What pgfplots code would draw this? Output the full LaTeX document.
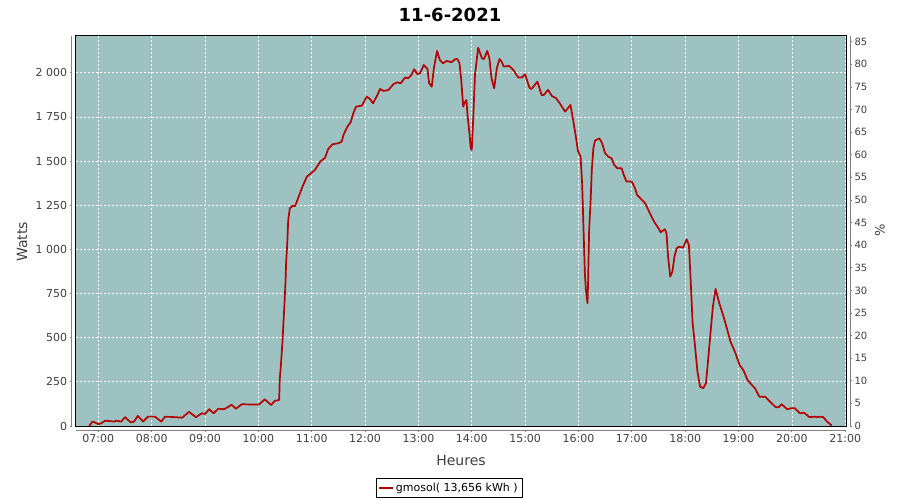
\documentclass[border=0pt]{standalone}
\usepackage{fontspec}
\setmainfont{DejaVu Sans}
\usepackage{pgfplots}
\pgfplotsset{compat=1.18}
\definecolor{plotbg}{RGB}{158,194,193}
\definecolor{serie}{RGB}{180,0,0}
\definecolor{axgray}{RGB}{128,128,128}
\definecolor{lblgray}{RGB}{64,64,64}
\pgfplotstableread{
h W
6.83 0
6.89 25
6.94 20
7.00 10
7.05 15
7.13 30
7.30 25
7.33 30
7.43 25
7.50 50
7.61 20
7.67 25
7.74 57
7.84 25
7.93 53
8.06 53
8.18 25
8.25 53
8.44 50
8.57 47
8.70 80
8.83 50
8.94 72
9.00 68
9.08 95
9.16 72
9.25 98
9.36 95
9.50 120
9.58 98
9.69 123
10.01 121
10.12 151
10.24 119
10.31 143
10.39 147
10.40 260
10.42 336
10.45 468
10.47 582
10.49 695
10.51 827
10.52 921
10.54 1025
10.56 1167
10.59 1233
10.64 1246
10.69 1246
10.72 1270
10.78 1318
10.84 1365
10.91 1412
10.97 1427
11.06 1450
11.16 1497
11.25 1519
11.31 1569
11.39 1595
11.50 1601
11.56 1610
11.60 1652
11.67 1695
11.73 1720
11.78 1771
11.83 1808
11.94 1814
12.03 1865
12.09 1852
12.15 1827
12.23 1874
12.28 1908
12.35 1897
12.44 1903
12.53 1935
12.60 1946
12.67 1941
12.75 1973
12.81 1969
12.87 1988
12.92 2020
12.98 1993
13.03 1997
13.10 2044
13.17 2022
13.20 1941
13.25 1921
13.29 2026
13.35 2124
13.40 2073
13.46 2054
13.53 2067
13.62 2060
13.69 2077
13.73 2078
13.77 2054
13.80 1969
13.84 1808
13.86 1827
13.90 1846
13.92 1761
13.96 1648
13.98 1573
14.00 1563
14.03 1761
14.06 1988
14.12 2142
14.19 2082
14.23 2078
14.29 2124
14.33 2082
14.37 1969
14.42 1912
14.47 2026
14.52 2078
14.56 2063
14.60 2035
14.70 2039
14.78 2016
14.87 1973
14.94 1973
15.00 1992
15.08 1916
15.12 1908
15.23 1950
15.31 1874
15.35 1874
15.43 1903
15.50 1869
15.58 1856
15.65 1827
15.75 1780
15.79 1795
15.85 1818
15.90 1733
15.95 1640
15.99 1558
16.04 1525
16.07 1365
16.09 1167
16.12 865
16.14 770
16.17 695
16.18 808
16.20 1110
16.23 1289
16.25 1450
16.28 1573
16.31 1616
16.39 1629
16.44 1604
16.50 1544
16.56 1525
16.62 1516
16.67 1478
16.73 1459
16.81 1459
16.85 1421
16.90 1384
17.00 1384
17.06 1346
17.10 1308
17.19 1280
17.25 1261
17.31 1223
17.37 1185
17.43 1151
17.50 1120
17.54 1097
17.62 1114
17.65 1091
17.68 959
17.72 846
17.76 874
17.80 959
17.84 1006
17.88 1015
17.96 1010
18.03 1057
18.07 1025
18.10 846
18.14 582
18.18 468
18.23 308
18.28 223
18.34 214
18.39 242
18.43 374
18.48 544
18.52 676
18.57 776
18.64 695
18.72 619
18.79 544
18.85 477
18.94 415
19.02 345
19.09 317
19.17 260
19.25 232
19.31 213
19.39 166
19.50 166
19.59 138
19.70 106
19.75 106
19.81 123
19.91 95
19.98 100
20.06 100
20.15 72
20.23 75
20.33 50
20.43 53
20.48 50
20.53 53
20.59 50
20.66 25
20.75 2
}\gmosol
\begin{document}
\begin{tikzpicture}[x=1pt,y=1pt]
\path[use as bounding box, fill=white] (0,0) rectangle (900,500);
\begin{axis}[
  at={(75.7pt,74pt)}, anchor=south west, scale only axis,
  width=770.3pt, height=390.3pt,
  xmin=6.576, xmax=21.015, ymin=0, ymax=2210,
  axis background/.style={fill=plotbg},
  xtick={7,8,...,21},
  xticklabels={07:00,08:00,09:00,10:00,11:00,12:00,13:00,14:00,15:00,16:00,17:00,18:00,19:00,20:00,21:00},
  ytick={0,250,...,2000},
  yticklabels={0,250,500,750,1 000,1 250,1 500,1 750,2 000},
  grid=major,
  major grid style={white, dash pattern=on 2pt off 2pt, line width=0.7pt},
  axis line style={black, line width=0.9pt},
  tick align=outside, major tick length=2pt,
  xtick pos=bottom, ytick pos=left,
  xtick style={axgray, line width=0.8pt, yshift=-4pt},
  ytick style={axgray, line width=0.8pt, xshift=-4pt},
  ticklabel style={font=\fontsize{11}{13}\selectfont, text=lblgray},
  xticklabel style={yshift=-3pt},
  yticklabel style={xshift=-3pt},
  legend style={at={(0.4846,-0.159)}, anchor=center, draw=black, line width=0.6pt,
    font=\fontsize{11}{13}\selectfont, inner sep=2.5pt,
    legend cell align=left},
  legend image code/.code={\draw[#1, line width=1.6pt] (0pt,0pt) -- (14pt,0pt);},
  clip=false,
]
\addplot[serie, line width=1.7pt, line join=round] table[x=h, y=W] {\gmosol};
\addlegendentry{gmosol( 13,656 kWh )}
\draw[axgray, line width=0.8pt] ([xshift=-4pt]rel axis cs:0,0) -- ([xshift=-4pt]rel axis cs:0,1);
\draw[axgray, line width=0.8pt] ([yshift=-4pt]rel axis cs:0,0) -- ([yshift=-4pt]rel axis cs:1,0);
\draw[axgray, line width=0.8pt] ([xshift=4pt]rel axis cs:1,0) -- ([xshift=4pt]rel axis cs:1,1);
\end{axis}
\begin{axis}[
  at={(75.7pt,74pt)}, anchor=south west, scale only axis,
  width=770.3pt, height=390.3pt,
  xmin=6.576, xmax=21.015, ymin=0, ymax=86.33,
  axis x line=none, axis y line*=right,
  axis line style={black, line width=0.9pt},
  ytick={0,5,...,85},
  /pgf/number format/assume math mode=true,
  tick align=outside, major tick length=2pt,
  ytick style={axgray, line width=0.8pt, xshift=4pt},
  yticklabel style={xshift=3pt, font=\fontsize{10}{12}\selectfont, text=lblgray},
]
\addplot[draw=none] coordinates {(7,0)};
\end{axis}
\node[font=\bfseries\fontsize{18}{20}\selectfont, text=black] at (450,485) {11-6-2021};
\node[font=\fontsize{14}{16}\selectfont, text=lblgray] at (461,40) {Heures};
\node[font=\fontsize{14}{16}\selectfont, text=lblgray, rotate=90] at (22,258) {Watts};
\node[font=\fontsize{13}{15}\selectfont, text=lblgray, rotate=90] at (880,270) {\%};
\end{tikzpicture}
\end{document}
